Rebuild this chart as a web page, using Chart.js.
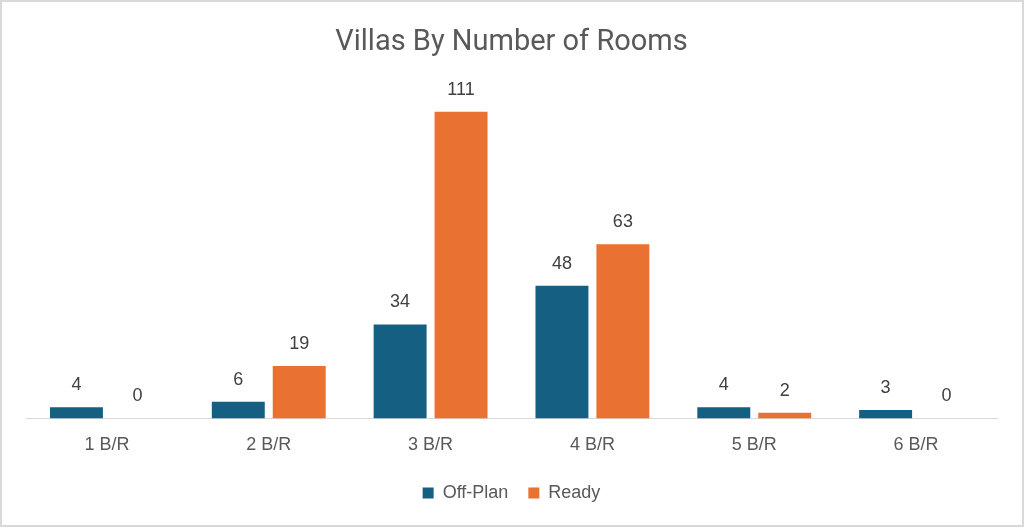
<!DOCTYPE html>
<html>
<head>
<meta charset="utf-8">
<script src="https://cdn.jsdelivr.net/npm/chart.js@4/dist/chart.umd.min.js"></script>
<style>
  html, body { margin: 0; padding: 0; background: #fff; }
  #wrap { width: 1024px; height: 527px; position: relative; }
</style>
</head>
<body>
<div id="wrap"><canvas id="roomsChart" width="1024" height="527"></canvas></div>
<script>
const categories = ['1 B/R', '2 B/R', '3 B/R', '4 B/R', '5 B/R', '6 B/R'];
const offPlan = [4, 6, 34, 48, 4, 3];
const ready = [0, 19, 111, 63, 2, 0];

const textFont = '"Liberation Sans", Arial, sans-serif';

// draws the value above each bar, like excel data labels
const valueLabels = {
    id: 'valueLabels',
    afterDatasetsDraw(chart) {
        const ctx = chart.ctx;
        ctx.save();
        ctx.font = '18px ' + textFont;
        ctx.fillStyle = '#404040';
        ctx.textAlign = 'center';
        ctx.textBaseline = 'middle';
        chart.data.datasets.forEach((ds, i) => {
            chart.getDatasetMeta(i).data.forEach((bar, j) => {
                ctx.fillText(ds.data[j], bar.x, bar.y - 22);
            });
        });
        ctx.restore();
    }
};

const frame = {
    id: 'frame',
    beforeDraw(chart) {
        const ctx = chart.ctx;
        ctx.save();
        ctx.fillStyle = '#ffffff';
        ctx.fillRect(0, 0, chart.width, chart.height);
        ctx.strokeStyle = '#d9d9d9';
        ctx.lineWidth = 2;
        ctx.strokeRect(1, 1, chart.width - 2, chart.height - 2);
        ctx.restore();
    }
};

document.addEventListener('DOMContentLoaded', function() {
    const ctx = document.getElementById('roomsChart').getContext('2d');
    new Chart(ctx, {
        type: 'bar',
        data: {
            labels: categories,
            datasets: [{
                label: 'Off-Plan',
                data: offPlan,
                backgroundColor: '#156082',
                borderWidth: 0
            }, {
                label: 'Ready',
                data: ready,
                backgroundColor: '#E97132',
                borderWidth: 0
            }]
        },
        options: {
            responsive: false,
            animation: false,
            layout: {
                padding: { left: 26, right: 27, top: 0, bottom: 15 }
            },
            datasets: {
                bar: { categoryPercentage: 0.753, barPercentage: 0.869 }
            },
            scales: {
                x: {
                    grid: { display: false },
                    border: { display: true, color: '#d9d9d9', width: 1 },
                    ticks: {
                        color: '#595959',
                        padding: 8,
                        font: { family: textFont, size: 18 }
                    }
                },
                y: {
                    display: false,
                    min: 0,
                    max: 120
                }
            },
            plugins: {
                title: {
                    display: true,
                    text: 'Villas By Number of Rooms',
                    color: '#595959',
                    font: { family: '"Liberation Sans Narrow", "Roboto", sans-serif', size: 29, weight: 'normal' },
                    padding: { top: 25, bottom: 27 }
                },
                legend: {
                    position: 'bottom',
                    labels: {
                        color: '#595959',
                        boxWidth: 11,
                        boxHeight: 11,
                        padding: 20,
                        font: { family: textFont, size: 18 }
                    }
                },
                tooltip: { enabled: false }
            }
        },
        plugins: [frame, valueLabels]
    });
});
</script>
</body>
</html>
